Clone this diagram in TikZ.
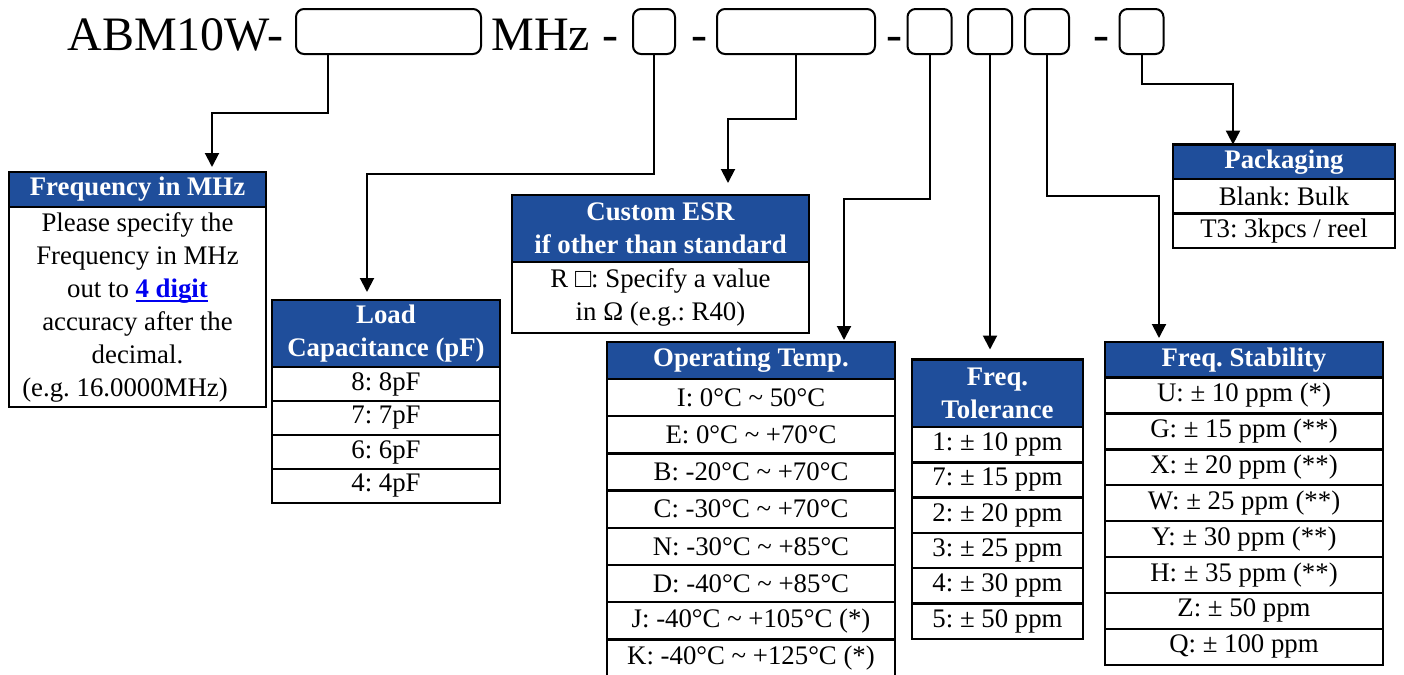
\documentclass[tikz,border=0pt]{standalone}
\usepackage{fontspec}
\setmainfont{Liberation Serif}
\usetikzlibrary{arrows.meta,calc}
\definecolor{hdrblue}{RGB}{31,78,155}
\definecolor{linkblue}{RGB}{0,0,240}
\newcommand{\tld}{\textasciitilde}
\newcommand{\digitline}[1]{\setbox0\hbox{#1}\rlap{\vrule width\wd0 height -1.6pt depth 2.6pt}\box0}
\frenchspacing

\tikzset{
  partbox/.style={draw, line width=1pt, rounded corners=4pt, minimum height=22.5pt, inner sep=0pt},
  code/.style={font=\fontsize{24}{28}\selectfont, anchor=base west, inner sep=0pt},
  hdr/.style={draw, line width=1.2pt, fill=hdrblue, text=white, font=\fontsize{13.4}{16.5}\selectfont\bfseries,
    align=center, inner sep=0pt, outer sep=0pt, anchor=north},
  cell/.style={draw, line width=1.2pt, fill=white, font=\fontsize{13.4}{16.5}\selectfont,
    align=center, inner sep=0pt, outer sep=0pt, anchor=north},
  conn/.style={draw, line width=1pt, -{Triangle[length=7pt,width=7pt]}},
}

\begin{document}
\begin{tikzpicture}[x=0.5pt, y=-0.5pt]
  \useasboundingbox (0,0) rectangle (1404,675);
  \clip (0,0) rectangle (1404,675);

  % part number
  \node[code] (t1) at (67,50) {ABM10W-};
  \node[code] (t2) at (491,50) {MHz -};
  \node[code] (t3) at (691,50) {-};
  \node[code] (t4) at (886,50) {-};
  \node[code] (t5) at (1093,50) {-};
  \node[partbox, minimum width=92.5pt] (b1) at (388.5,31.5) {};
  \node[partbox, minimum width=21pt] (b2) at (654,31.5) {};
  \node[partbox, minimum width=79pt] (b3) at (796,31.5) {};
  \node[partbox, minimum width=22pt] (b4) at (929.5,31.5) {};
  \node[partbox, minimum width=22pt] (b5) at (990,31.5) {};
  \node[partbox, minimum width=22pt] (b6) at (1047,31.5) {};
  \node[partbox, minimum width=22pt] (b7) at (1141.5,31.5) {};

  % frequency
  \node[hdr, minimum width=128.5pt, minimum height=17.5pt] (fq) at (137.5,172) {Frequency in MHz};
  \node[cell, minimum width=128.5pt, minimum height=100pt] (fqbody) at (fq.south)
    {Please specify the\\Frequency in MHz\\out to \textcolor{linkblue}{\digitline{\textbf{4 digit}}}\\
     accuracy after the\\decimal.\\(e.g. 16.0000MHz)\hspace*{12.5pt}};

  % load capacitance
  \node[hdr, minimum width=114pt, minimum height=33.5pt] (ld) at (386,300) {Load\\Capacitance (pF)};
  \foreach \txt [count=\i] in {8: 8pF, 7: 7pF, 6: 6pF, 4: 4pF}
    \node[cell, minimum width=114pt, minimum height=17pt] (ld\i) at ($(ld.south)+(0,{(\i-1)*34})$) {\txt};

  % custom esr
  \node[hdr, minimum width=148.5pt, minimum height=33.5pt] (esr) at (660.5,195) {Custom ESR\\if other than standard};
  \node[cell, minimum width=148.5pt, minimum height=35.5pt] (esrbody) at (esr.south)
    {R □: Specify a value\\in Ω (e.g.: R40)};

  % operating temp
  \node[hdr, minimum width=144pt, minimum height=18.5pt] (op) at (751,342) {Operating Temp.};
  \foreach \txt [count=\i] in {I: 0°C \tld{} 50°C, E: 0°C \tld{} +70°C, B: -20°C \tld{} +70°C,
      C: -30°C \tld{} +70°C, N: -30°C \tld{} +85°C, D: -40°C \tld{} +85°C,
      J: -40°C \tld{} +105°C (*), K: -40°C \tld{} +125°C (*)}
    \node[cell, minimum width=144pt, minimum height=18.6pt] (op\i) at ($(op.south)+(0,{(\i-1)*37.2})$) {\txt};

  % tolerance
  \node[hdr, minimum width=85.5pt, minimum height=33.75pt] (tol) at (997.5,359.5) {Freq.\\Tolerance};
  \foreach \txt [count=\i] in {1: ± 10 ppm, 7: ± 15 ppm, 2: ± 20 ppm, 3: ± 25 ppm, 4: ± 30 ppm, 5: ± 50 ppm}
    \node[cell, minimum width=85.5pt, minimum height=17.65pt] (tol\i) at ($(tol.south)+(0,{(\i-1)*35.3})$) {\txt};

  % stability
  \node[hdr, minimum width=139pt, minimum height=17.75pt] (stab) at (1244,342) {Freq. Stability};
  \foreach \txt [count=\i] in {U: ± 10 ppm (*), G: ± 15 ppm (**), X: ± 20 ppm (**), W: ± 25 ppm (**),
      Y: ± 30 ppm (**), H: ± 35 ppm (**), Z: ± 50 ppm, Q: ± 100 ppm}
    \node[cell, minimum width=139pt, minimum height=17.95pt] (stab\i) at ($(stab.south)+(0,{(\i-1)*35.9})$) {\txt};

  % packaging
  \node[hdr, minimum width=111pt, minimum height=17.2pt] (pk) at (1284,144.6) {Packaging};
  \foreach \txt [count=\i] in {Blank: Bulk, T3: 3kpcs / reel}
    \node[cell, minimum width=111pt, minimum height=17.2pt] (pk\i) at ($(pk.south)+(0,{(\i-1)*34.4})$) {\txt};

  % arrows
  \draw[conn] ($(b1.south)+(-60.5,0)$) -- ++(0,58) -| ($(fq.north)+(74.5,-5)$);
  \draw[conn] (b2.south) -- ++(0,119) -| ($(ld.north)+(-19,-8)$);
  \draw[conn] (b3.south) -- ++(0,64) -| ($(esr.north)+(67.5,-12)$);
  \draw[conn] (b4.south) -- ++(0,144) -| ($(op.north)+(93,-2)$);
  \draw[conn] (b5.south) -- ($(b5.south |- tol.north)+(0,-10)$);
  \draw[conn] (b6.south) -- ++(0,141) -| ($(stab.north)+(-85,-4)$);
  \draw[conn] (b7.south) -- ++(0,29) -| ($(pk.north)+(-51,0)$);
\end{tikzpicture}
\end{document}
